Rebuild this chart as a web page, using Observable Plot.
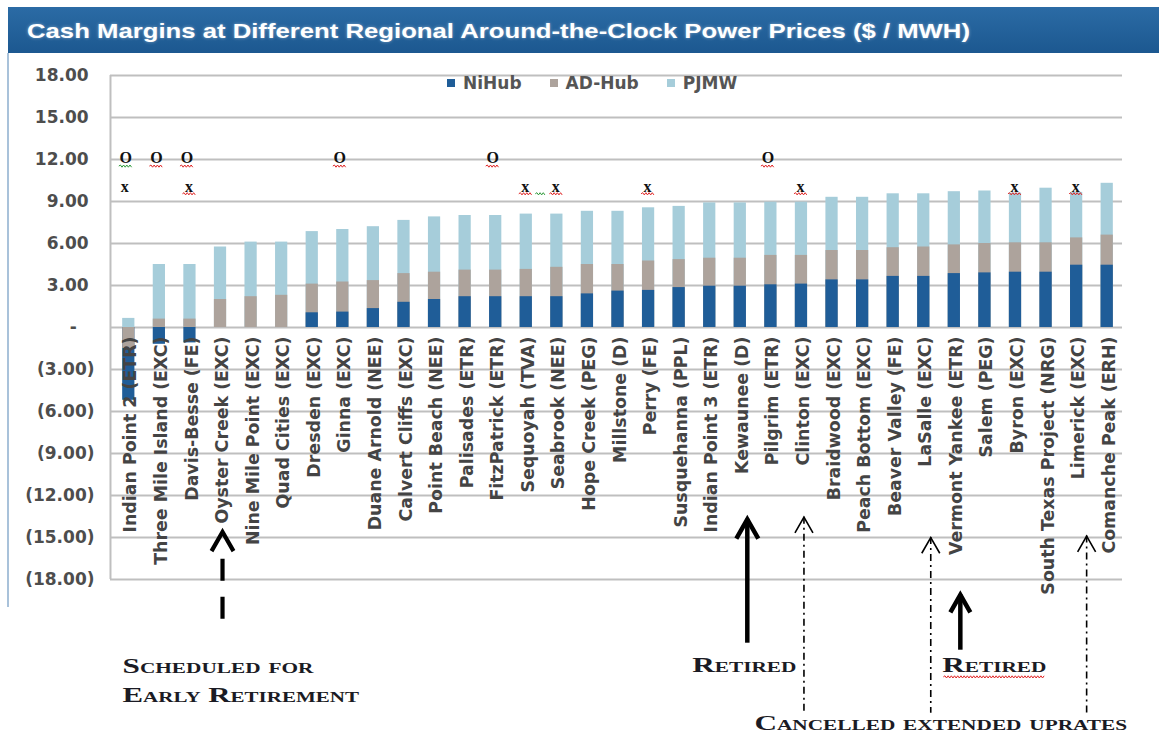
<!DOCTYPE html>
<html>
<head>
<meta charset="utf-8">
<script src="https://cdn.jsdelivr.net/npm/d3@7"></script>
<script src="https://cdn.jsdelivr.net/npm/@observablehq/plot@0.6"></script>
<style>
  html, body { margin: 0; padding: 0; background: #fff; }
  body { width: 1159px; height: 737px; overflow: hidden; position: relative; font-family: "DejaVu Sans", sans-serif; }
  #titlebar { position: absolute; left: 8px; top: 7px; width: 1151px; height: 46px; background: linear-gradient(#2b6ba5, #1c5890); }
  #title { position: absolute; left: 19px; top: 12px; line-height: 21px; color: #fff; font: bold 21px "Liberation Sans", Arial, sans-serif; white-space: nowrap; transform-origin: 0 0; text-shadow: 0 0 3px rgba(255,255,255,0.45); }
  #leftline { position: absolute; left: 7px; top: 53px; width: 2px; height: 554px; background: #a9c2da; }
  #chart { position: absolute; left: 0; top: 53px; }
  #legend { position: absolute; left: 447px; top: 73px; display: flex; align-items: center; height: 20px; font: bold 17px "DejaVu Sans", sans-serif; color: #555; }
  #legend .item { display: flex; align-items: center; margin-right: 28px; }
  #legend .sw { width: 8px; height: 8px; margin-right: 8px; }
  .anno text { font-variant: small-caps; }
</style>
</head>
<body>
<div id="titlebar"><span id="title">Cash Margins at Different Regional Around-the-Clock Power Prices ($ / MWH)</span></div>
<div id="leftline"></div>
<div id="chart"></div>
<div id="legend"></div>
<script>
// ---- data ----
const plants = [
  "Indian Point 2 (ETR)", "Three Mile Island (EXC)", "Davis-Besse (FE)", "Oyster Creek (EXC)",
  "Nine Mile Point (EXC)", "Quad Cities (EXC)", "Dresden (EXC)", "Ginna (EXC)",
  "Duane Arnold (NEE)", "Calvert Cliffs (EXC)", "Point Beach (NEE)", "Palisades (ETR)",
  "FitzPatrick (ETR)", "Sequoyah (TVA)", "Seabrook (NEE)", "Hope Creek (PEG)",
  "Millstone (D)", "Perry (FE)", "Susquehanna (PPL)", "Indian Point 3 (ETR)",
  "Kewaunee (D)", "Pilgrim (ETR)", "Clinton (EXC)", "Braidwood (EXC)",
  "Peach Bottom (EXC)", "Beaver Valley (FE)", "LaSalle (EXC)", "Vermont Yankee (ETR)",
  "Salem (PEG)", "Byron (EXC)", "South Texas Project (NRG)", "Limerick (EXC)", "Comanche Peak (ERH)"
];
const seriesNames = ["NiHub", "AD-Hub", "PJMW"];
const seriesColors = ["#1f5d98", "#ada39c", "#a6cdda"];
const niHub = [-5.2, -1.2, -1.1, 0, 0, 0, 1.05, 1.1, 1.35, 1.8, 2.0, 2.2, 2.2, 2.2, 2.2, 2.4, 2.6, 2.65, 2.85, 2.95, 2.95, 3.05, 3.1, 3.4, 3.4, 3.65, 3.65, 3.85, 3.9, 3.95, 3.95, 4.45, 4.45];
const adHub = [-1.5, 0.6, 0.6, 2.0, 2.2, 2.3, 3.1, 3.25, 3.35, 3.85, 3.95, 4.1, 4.1, 4.15, 4.3, 4.5, 4.5, 4.75, 4.85, 4.95, 4.95, 5.15, 5.15, 5.5, 5.5, 5.7, 5.75, 5.9, 6.0, 6.05, 6.05, 6.4, 6.6];
const pjmw  = [0.65, 4.5, 4.5, 5.75, 6.1, 6.1, 6.85, 7.0, 7.2, 7.65, 7.9, 8.0, 8.0, 8.1, 8.1, 8.3, 8.3, 8.55, 8.65, 8.9, 8.9, 8.95, 8.95, 9.3, 9.3, 9.55, 9.55, 9.7, 9.75, 9.6, 9.95, 9.65, 10.3];
const yTicks = [18, 15, 12, 9, 6, 3, 0, -3, -6, -9, -12, -15, -18];
const oMarks = ["Indian Point 2 (ETR)", "Three Mile Island (EXC)", "Davis-Besse (FE)", "Ginna (EXC)", "FitzPatrick (ETR)", "Pilgrim (ETR)"];
const xMarks = ["Indian Point 2 (ETR)", "Davis-Besse (FE)", "Sequoyah (TVA)", "Seabrook (NEE)", "Perry (FE)", "Clinton (EXC)", "Byron (EXC)", "Limerick (EXC)"];
const greenUnderlined = ["Indian Point 2 (ETR)"];
const plainX = ["Indian Point 2 (ETR)"];

// annotations (plant, arrow tip / tail in $/MWh units)
const arrows = [
  {plant: "Oyster Creek (EXC)",   tip: -14.6,  from: -16.55, to: -21.05, nudge: 2,  w: 4.2, dash: "22,16",   r: 11},
  {plant: "Kewaunee (D)",         tip: -13.7,  from: -13.7,  to: -22.55, nudge: 7,  w: 4.5, dash: null,      r: 11},
  {plant: "Clinton (EXC)",        tip: -13.55, from: -13.55, to: -27.55, nudge: 2.5,w: 1.6, dash: "7,4,2,4", r: 9},
  {plant: "LaSalle (EXC)",        tip: -15.0,  from: -15.0,  to: -27.55, nudge: 7,  w: 1.6, dash: "7,4,2,4", r: 9},
  {plant: "Limerick (EXC)",       tip: -14.9,  from: -14.9,  to: -27.55, nudge: 10, w: 1.6, dash: "7,4,2,4", r: 9},
  {plant: "Vermont Yankee (ETR)", tip: -19.1,  from: -19.1,  to: -23.05, nudge: 6,  w: 4.5, dash: null,      r: 10}
];
const notes = [
  {plant: "Oyster Creek (EXC)",   text: "Scheduled for",              at: -24.65, nudge: -98, anchor: "start",  stretch: 1.42},
  {plant: "Oyster Creek (EXC)",   text: "Early Retirement",           at: -26.75, nudge: -98, anchor: "start",  stretch: 1.40},
  {plant: "Kewaunee (D)",         text: "Retired",                    at: -24.6,  nudge: 4,   anchor: "middle", stretch: 1.42},
  {plant: "Vermont Yankee (ETR)", text: "Retired",                    at: -24.6,  nudge: 40,  anchor: "middle", stretch: 1.42},
  {plant: "LaSalle (EXC)",        text: "Cancelled extended uprates", at: -28.75, nudge: 17,  anchor: "middle", stretch: 1.42}
];

// ---- build ----
const barData = [];
plants.forEach((p, i) => {
  [niHub, adHub, pjmw].forEach((arr, k) => barData.push({plant: p, series: seriesNames[k], value: arr[i]}));
});
// overlapping bars: draw the largest magnitude first so smaller ones sit on top
barData.sort((a, b) => Math.abs(b.value) - Math.abs(a.value));

const fmt = v => v > 0 ? v.toFixed(2) + "\u00a0" : v === 0 ? "-\u2007\u00a0" : "(" + (-v).toFixed(2) + ")";

const chevron = {
  draw(ctx, size) {
    const r = Math.sqrt(size / Math.PI);
    ctx.moveTo(-r, r * 1.75);
    ctx.lineTo(0, 0);
    ctx.lineTo(r, r * 1.75);
  }
};
// spell-check style squiggle
const wave = {
  draw(ctx, size) {
    const r = Math.sqrt(size / Math.PI);
    ctx.moveTo(-r, 0);
    let up = true;
    for (let x = -r + 1.6; x <= r + 0.01; x += 1.6) {
      ctx.lineTo(x, up ? -1.1 : 1.1);
      up = !up;
    }
  }
};

const labelFont = {fontFamily: "DejaVu Sans", fontWeight: "bold", fontSize: 17.4};
const markFont = {fontFamily: "Liberation Serif", fontWeight: "bold", fontSize: 16, fill: "#111"};
const annoFont = {fontFamily: "Liberation Serif", fontWeight: "bold", fontSize: 22, fill: "#1b1b24"};
const red = "#e02424", green = "#2e9a3a";

const arrowMarks = arrows.flatMap(a => [
  Plot.ruleX([a], {x: "plant", y1: "from", y2: "to", dx: a.nudge, stroke: "#000", strokeWidth: a.w, strokeDasharray: a.dash || undefined}),
  Plot.dot([a], {x: "plant", y: "tip", dx: a.nudge, symbol: chevron, r: a.r, fill: "none", stroke: "#000", strokeWidth: a.w, strokeLinejoin: "miter", strokeLinecap: "butt"})
]);
const noteMarks = notes.map(n =>
  Plot.text([n], {x: "plant", y: "at", text: "text", dx: n.nudge, textAnchor: n.anchor, lineAnchor: "bottom", ...annoFont, className: "anno"})
);

const redO = oMarks.filter(p => !greenUnderlined.includes(p));
const greenO = oMarks.filter(p => greenUnderlined.includes(p));
const redX = xMarks.filter(p => !plainX.includes(p));
const plainXs = xMarks.filter(p => plainX.includes(p));

const plot = Plot.plot({
  width: 1159,
  height: 684,
  marginLeft: 110,
  marginRight: 37,
  marginTop: 22,
  marginBottom: 158,
  style: {background: "transparent", overflow: "visible"},
  x: {domain: plants, paddingInner: 0.6, paddingOuter: 0.3, insetLeft: 3, round: false, axis: null},
  y: {domain: [-18, 18], axis: null},
  color: {domain: seriesNames, range: seriesColors},
  marks: [
    Plot.ruleY(yTicks, {stroke: "#bfbfbf", strokeWidth: 2}),
    Plot.ruleX([plants[0]], {x: d => d, y1: -18, y2: 18, dx: -18.3, stroke: "#bfbfbf", strokeWidth: 2}),
    Plot.axisY(yTicks, {anchor: "left", tickSize: 0, tickPadding: 16, tickFormat: fmt, label: null, ...labelFont, fontSize: 17, fill: "#4d4d4d"}),
    Plot.barY(barData, {x: "plant", y1: 0, y2: "value", fill: "series"}),
    Plot.text(plants, {x: d => d, y: 0, text: d => d, rotate: -90, textAnchor: "end", lineAnchor: "middle", dy: 9, dx: 2, ...labelFont, fill: "#444"}),
    // O / x markers with their spell-check squiggles
    Plot.text(oMarks, {x: d => d, y: 12.1, text: () => "O", dx: -3, ...markFont}),
    Plot.dot(redO, {x: d => d, y: 12.1, dx: -3, dy: 8, symbol: wave, r: 7, fill: "none", stroke: red, strokeWidth: 1}),
    Plot.dot(greenO, {x: d => d, y: 12.1, dx: -3, dy: 8, symbol: wave, r: 7, fill: "none", stroke: green, strokeWidth: 1}),
    Plot.text(redX, {x: d => d, y: 10.05, text: () => "x", dx: -1, ...markFont}),
    Plot.text(plainXs, {x: d => d, y: 10.05, text: () => "x", dx: -4, ...markFont}),
    Plot.dot(redX, {x: d => d, y: 10.05, dx: -1, dy: 7, symbol: wave, r: 6.5, fill: "none", stroke: red, strokeWidth: 1}),
    Plot.dot(["Sequoyah (TVA)"], {x: d => d, y: 10.05, dx: 14, dy: 7, symbol: wave, r: 5, fill: "none", stroke: green, strokeWidth: 1}),
    ...arrowMarks,
    ...noteMarks,
    Plot.dot(notes.filter(n => n.plant === "Vermont Yankee (ETR)"), {x: "plant", y: "at", dx: 40, dy: 5, symbol: wave, r: 51, fill: "none", stroke: red, strokeWidth: 1})
  ]
});
document.getElementById("chart").appendChild(plot);

// stretch the serif annotation lettering wider, as in the reference
d3.select(plot).selectAll(".anno").each(function(_, i) {
  const n = notes[i];
  d3.select(this).selectAll("text").each(function() {
    const w = this.getComputedTextLength();
    this.setAttribute("textLength", w * n.stretch);
    this.setAttribute("lengthAdjust", "spacingAndGlyphs");
  });
});

// title width to match reference lettering
const t = document.getElementById("title");
const tw = t.getBoundingClientRect().width;
t.style.transform = `scaleX(${943 / tw})`;

// legend
const lg = d3.select("#legend");
seriesNames.forEach((s, i) => {
  const it = lg.append("div").attr("class", "item");
  it.append("div").attr("class", "sw").style("background", seriesColors[i]);
  it.append("span").text(s);
});
</script>
</body>
</html>
